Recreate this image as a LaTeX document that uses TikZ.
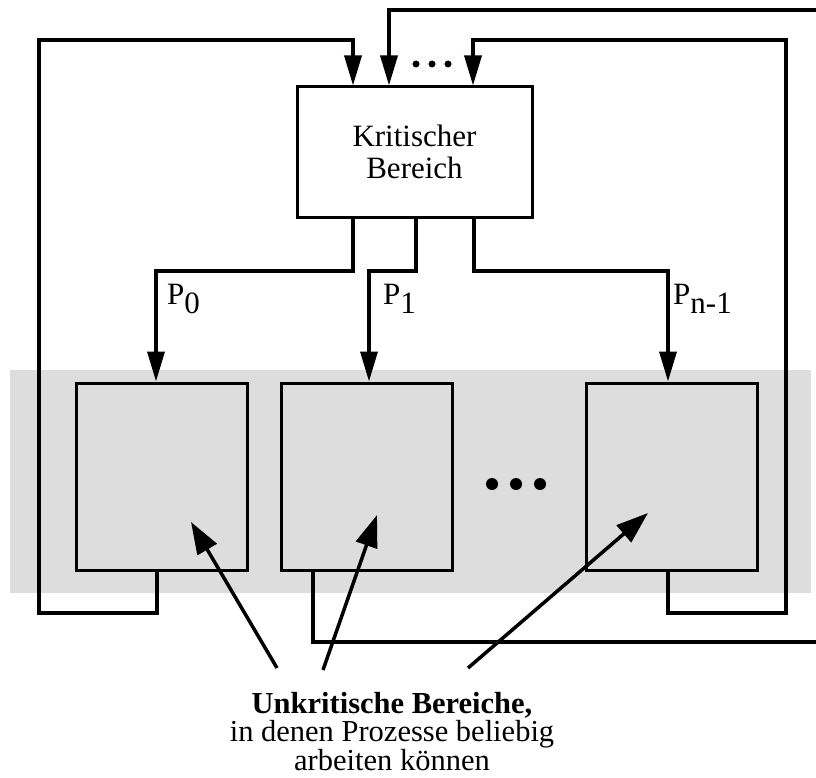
\documentclass[tikz,border=0pt]{standalone}
\usepackage{fontspec}
\setmainfont{Liberation Serif}
\usetikzlibrary{arrows.meta}
\definecolor{bandgray}{HTML}{DDDDDD}
\tikzset{
  wire/.style={line width=3.5pt},
  arr/.style={wire,-{Triangle[length=30pt,width=17pt]}},
  parr/.style={wire,-{Triangle[length=32pt,width=22pt]}},
  procbox/.style={draw,line width=3pt,fill=bandgray,minimum width=171pt,minimum height=187pt,inner sep=0pt},
  critbox/.style={draw,line width=3pt,fill=white,minimum width=235pt,minimum height=130pt,align=center,inner sep=0pt,
    font=\fontsize{31}{32}\selectfont},
  lbl/.style={anchor=base west,inner sep=0pt,font=\fontsize{31}{32}\selectfont},
  txt/.style={anchor=north,inner sep=0pt,align=center,font=\fontsize{30.5}{28.5}\selectfont},
  dot/.style={fill=black,draw=none,circle,inner sep=0pt}
}
\newcommand{\sub}[1]{\raisebox{-9pt}{#1}}
\begin{document}
\begin{tikzpicture}[x=1pt,y=-1pt]
\useasboundingbox (0,0) rectangle (816,778);
% gray band
\fill[bandgray] (10,370) rectangle (811,593);
% nodes
\node[critbox] (K) at (414.5,152) {Kritischer\\Bereich};
\node[procbox] (p0) at (161.5,476.5) {};
\node[procbox] (p1) at (367,476.5) {};
\node[procbox] (p2) at (672,476.5) {};
% dots
\node[dot,minimum size=7pt] (d1) at (416,64) {};
\node[dot,minimum size=7pt] (d2) at (432,64) {};
\node[dot,minimum size=7pt] (d3) at (448,64) {};
\node[dot,minimum size=12pt] (e1) at (492,484) {};
\node[dot,minimum size=12pt] (e2) at (516,484) {};
\node[dot,minimum size=12pt] (e3) at (540,484) {};
% free ends at the right border
\coordinate (r1) at (816,10);
\coordinate (r2) at (816,642);
% loops into the critical region
\draw[arr] (p0.south -| 157,0) |- (39,613) |- (353,40) -- (K.north -| 353,0);
\draw[arr] (r1) -| (K.north -| 389,0);
\draw[arr] (p2.south -| 668,0) |- (786,613) |- (473,40) -- (K.north -| 473,0);
\draw[wire] (p1.south -| 313,0) |- (r2);
% out of the critical region
\draw[arr] (K.south -| 353,0) |- (156,271) -- (p0.north -| 156,0);
\draw[arr] (K.south -| 416,0) |- (369,271) -- (p1.north -| 369,0);
\draw[arr] (K.south -| 474,0) |- (668,271) -- (p2.north -| 668,0);
% labels
\node[lbl] (l0) at (167,304) {P\sub{0}};
\node[lbl] (l1) at (383,304) {P\sub{1}};
\node[lbl] (l2) at (673,304) {P\sub{n-1}};
% bottom text
\node[txt] (t) at (392,692) {{\bfseries Unkritische Bereiche,}\\in denen Prozesse beliebig\\arbeiten können};
\coordinate (a1) at (277,668);
\coordinate (a2) at (323,670);
\coordinate (a3) at (468,668);
\coordinate (b1) at (191,522);
\coordinate (b2) at (377,515);
\coordinate (b3) at (648,513);
\draw[parr] (a1) -- (b1);
\draw[parr] (a2) -- (b2);
\draw[parr] (a3) -- (b3);
\end{tikzpicture}
\end{document}
